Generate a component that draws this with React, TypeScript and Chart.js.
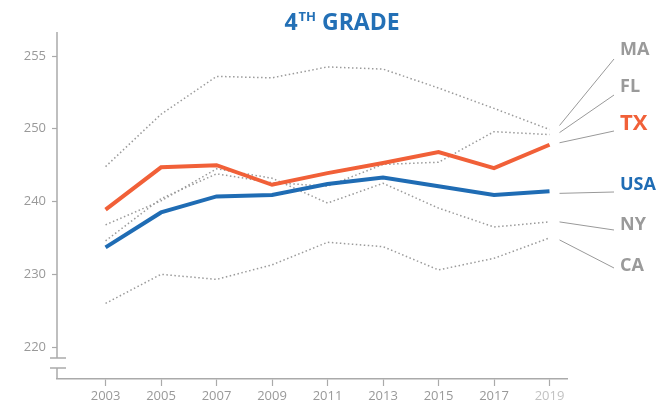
import React, { useEffect, useRef } from "react";
import { Chart, registerables } from "chart.js";

Chart.register(...registerables);

const years = [2003, 2005, 2007, 2009, 2011, 2013, 2015, 2017, 2019];
const yTickValues = [220, 230, 240, 250, 260];
const yTickLabels = ["220", "230", "240", "250", "255"];

const txScores = [238.9, 244.7, 245.0, 242.3, 243.9, 245.3, 246.8, 244.6, 247.8];
const usaScores = [233.7, 238.5, 240.7, 240.9, 242.4, 243.3, 242.1, 240.9, 241.4];
const maScores = [244.8, 252.0, 257.2, 257.0, 258.5, 258.2, 255.6, 252.8, 249.9];
const flScores = [234.6, 240.4, 243.8, 242.6, 242.1, 245.1, 245.4, 249.6, 249.2];
const nyScores = [236.8, 240.1, 244.5, 243.2, 239.8, 242.5, 239.1, 236.5, 237.2];
const caScores = [226.0, 230.0, 229.3, 231.3, 234.4, 233.8, 230.6, 232.2, 235.0];

const ORANGE = "#F16038";
const BLUE = "#1F6CB4";
const GRAY = "#9a9a9a";
const FONT = '"Open Sans", "Noto Sans", sans-serif';

const toPts = (vals: number[]) => vals.map((v, i) => ({ x: years[i], y: v }));

// label annotations: dataset index, label text, colour, size, label centre y, leader end y, start offset
const annotations = [
  { ds: 2, text: "MA", color: GRAY, size: 18, labelY: 50, endY: 59, dy: -4 },
  { ds: 3, text: "FL", color: GRAY, size: 18, labelY: 87, endY: 95, dy: -2 },
  { ds: 0, text: "TX", color: ORANGE, size: 22, labelY: 124, endY: 131, dy: -2 },
  { ds: 1, text: "USA", color: BLUE, size: 18, labelY: 185, endY: 192, dy: 2 },
  { ds: 4, text: "NY", color: GRAY, size: 18, labelY: 225, endY: 230, dy: 0 },
  { ds: 5, text: "CA", color: GRAY, size: 18, labelY: 266, endY: 268, dy: 2 },
];

const decorPlugin = {
  id: "decor",
  afterDraw(chart: any) {
    const ctx = chart.ctx as CanvasRenderingContext2D;
    const area = chart.chartArea;
    const xs = chart.scales.x;
    const ys = chart.scales.y;
    ctx.save();

    // y axis line with break
    ctx.strokeStyle = "#aaaaaa";
    ctx.lineWidth = 1.5;
    const ax = area.left;
    const b1 = area.bottom - 21;
    const b2 = area.bottom - 11;
    ctx.beginPath();
    ctx.moveTo(ax, area.top);
    ctx.lineTo(ax, b1);
    ctx.moveTo(ax - 7, b1);
    ctx.lineTo(ax + 9, b1);
    ctx.moveTo(ax - 7, b2);
    ctx.lineTo(ax + 9, b2);
    ctx.moveTo(ax, b2);
    ctx.lineTo(ax, area.bottom);
    ctx.stroke();

    // leader lines and labels
    const lastYear = years[years.length - 1];
    const startX = xs.getPixelForValue(lastYear) + 10;
    const endX = area.right + 47;
    const labelX = area.right + 53;
    ctx.lineWidth = 1;
    ctx.strokeStyle = "#999999";
    annotations.forEach((a) => {
      const data = chart.data.datasets[a.ds].data;
      const last = data[data.length - 1];
      const sy = ys.getPixelForValue(last.y) + a.dy;
      ctx.beginPath();
      ctx.moveTo(startX, sy);
      ctx.lineTo(endX, a.endY);
      ctx.stroke();
      ctx.font = `bold ${a.size}px ${FONT}`;
      ctx.fillStyle = a.color;
      ctx.textAlign = "left";
      ctx.textBaseline = "middle";
      ctx.fillText(a.text, labelX, a.labelY);
    });

    // title: 4TH GRADE with superscript
    const big = `bold 23px ${FONT}`;
    const small = `bold 13px ${FONT}`;
    ctx.fillStyle = "#2370B6";
    ctx.textBaseline = "alphabetic";
    ctx.font = big;
    const w4 = ctx.measureText("4").width;
    const wRest = ctx.measureText(" GRADE").width;
    ctx.font = small;
    const wTH = ctx.measureText("TH").width + 1;
    const total = w4 + wTH + wRest;
    let x = 342 - total / 2;
    ctx.textAlign = "left";
    ctx.font = big;
    ctx.fillText("4", x, 30);
    x += w4 + 1;
    ctx.font = small;
    ctx.fillText("TH", x, 21);
    x += wTH - 1;
    ctx.font = big;
    ctx.fillText(" GRADE", x, 30);

    ctx.restore();
  },
};

export default function App() {
  const ref = useRef<HTMLCanvasElement>(null);
  useEffect(() => {
    if (!ref.current) return;
    const dotted = (label: string, vals: number[], order: number) => ({
      label,
      data: toPts(vals),
      borderColor: GRAY,
      borderWidth: 1.5,
      borderDash: [1.5, 2.5],
      pointRadius: 0,
      fill: false,
      tension: 0,
      order,
    });
    const chart = new Chart(ref.current, {
      type: "line",
      data: {
        datasets: [
          { label: "TX", data: toPts(txScores), borderColor: ORANGE, borderWidth: 4, pointRadius: 0, fill: false, order: 0 },
          { label: "USA", data: toPts(usaScores), borderColor: BLUE, borderWidth: 4, pointRadius: 0, fill: false, order: 1 },
          dotted("MA", maScores, 2),
          dotted("FL", flScores, 3),
          dotted("NY", nyScores, 4),
          dotted("CA", caScores, 5),
        ] as any,
      },
      options: {
        animation: false,
        responsive: false,
        devicePixelRatio: 1,
        layout: { padding: { top: 32, right: 93, left: 0, bottom: 0 } },
        plugins: { legend: { display: false }, tooltip: { enabled: false }, title: { display: false } },
        scales: {
          x: {
            type: "linear",
            min: 2001.25,
            max: 2019.63,
            afterBuildTicks: (s: any) => {
              s.ticks = years.map((v) => ({ value: v }));
            },
            afterFit: (s: any) => {
              s.height = 31;
            },
            ticks: {
              callback: (v: any) => String(v),
              color: (c: any) => (c.index === years.length - 1 ? "#c2c2c2" : "#999999"),
              font: { family: FONT, size: 13 },
              padding: 2,
              maxRotation: 0,
              autoSkip: false,
            },
            grid: { drawOnChartArea: false, drawTicks: true, tickLength: 7, tickColor: "#aaaaaa", tickWidth: 1.2 },
            border: { display: true, color: "#aaaaaa", width: 1.5 },
          },
          y: {
            type: "linear",
            min: 215.61,
            max: 263.3,
            afterBuildTicks: (s: any) => {
              s.ticks = yTickValues.map((v) => ({ value: v }));
            },
            afterFit: (s: any) => {
              s.width = 57;
            },
            ticks: {
              callback: (_v: any, i: number) => yTickLabels[i],
              color: "#999999",
              font: { family: FONT, size: 13 },
              padding: 6,
            },
            grid: { drawOnChartArea: false, drawTicks: true, tickLength: 5, tickColor: "#aaaaaa", tickWidth: 1.2 },
            border: { display: false },
          },
        },
      } as any,
      plugins: [decorPlugin],
    });
    return () => chart.destroy();
  }, []);
  return (
    <div style={{ position: "fixed", left: 0, top: 0, width: 660, height: 410, background: "#fff" }}>
      <canvas ref={ref} width={660} height={410} style={{ display: "block" }} />
    </div>
  );
}
